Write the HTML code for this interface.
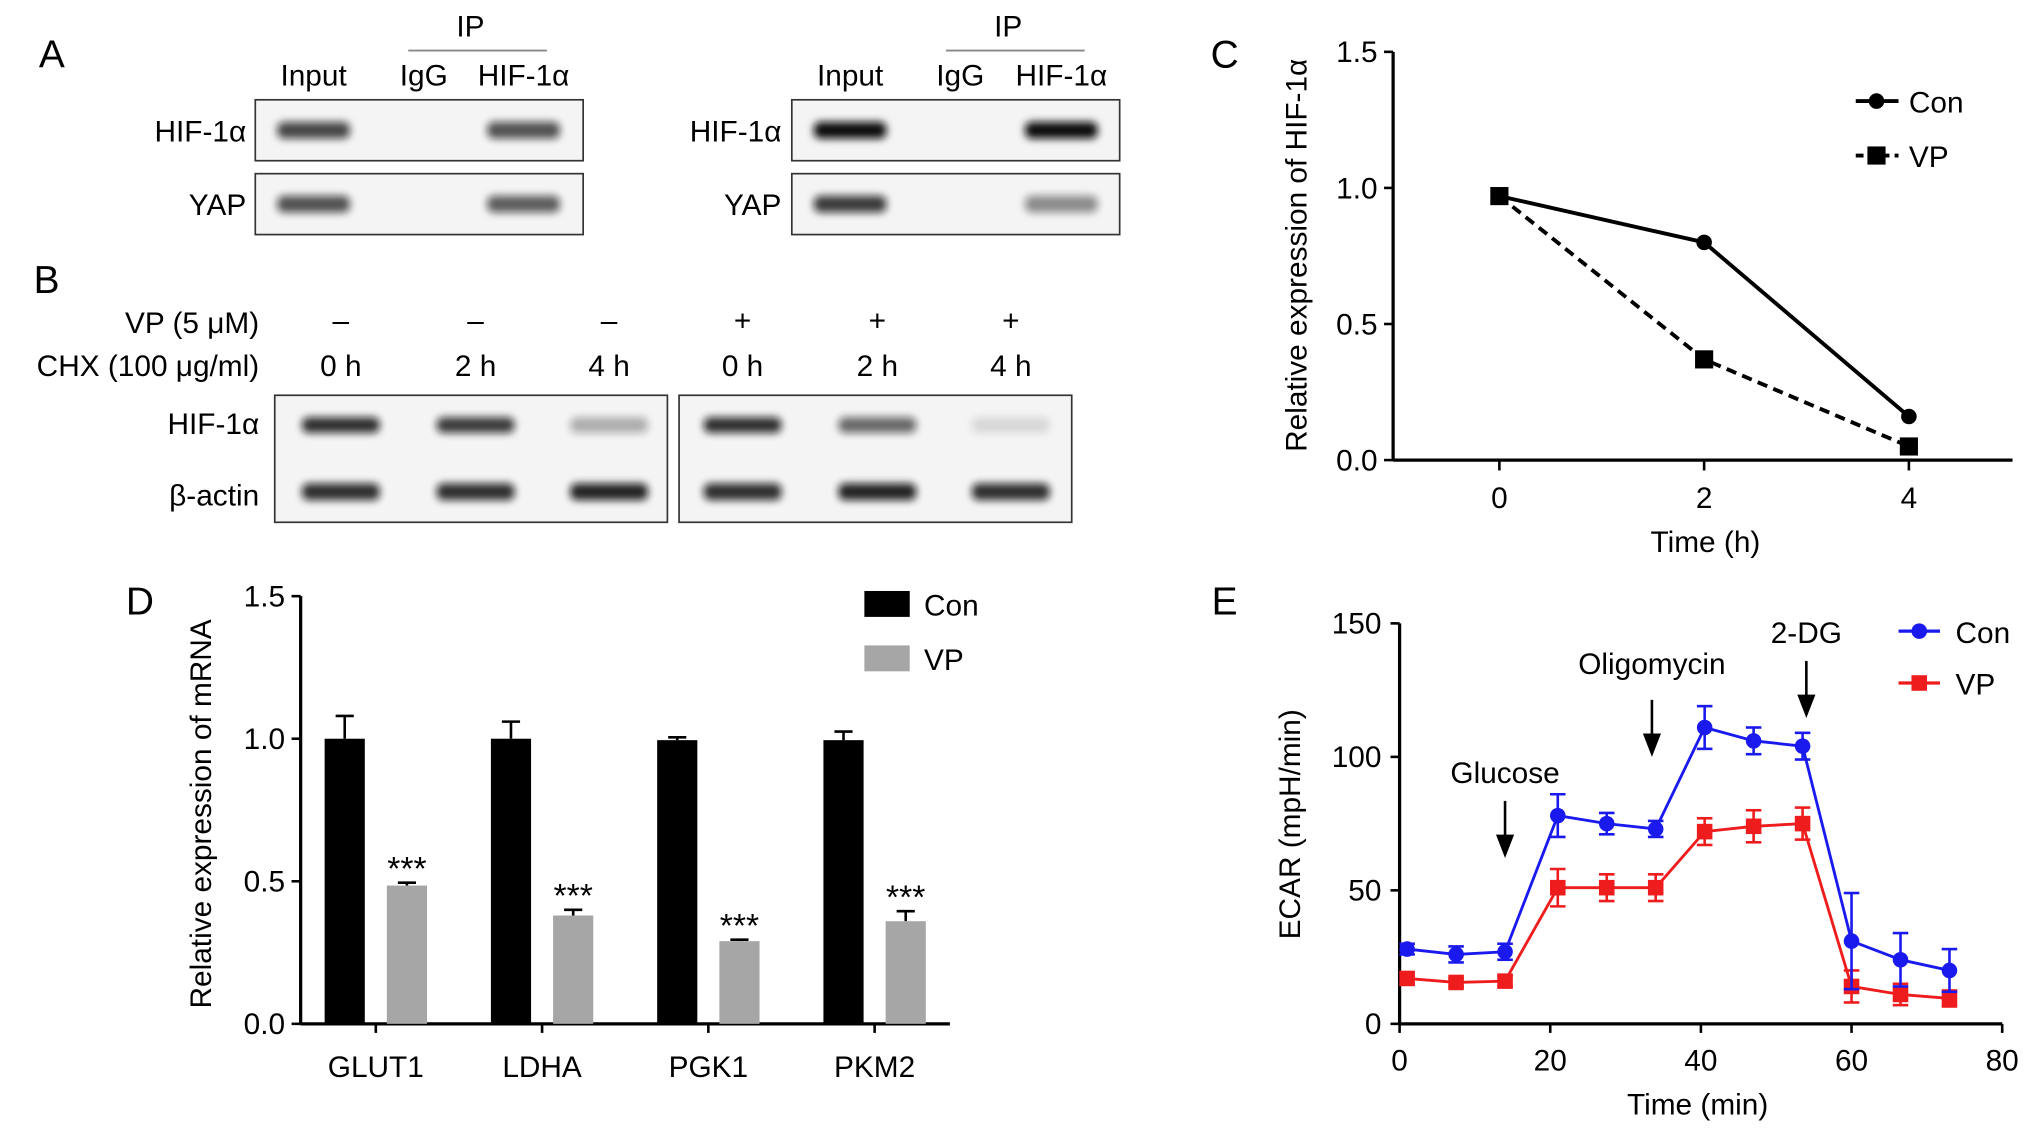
<!DOCTYPE html>
<html><head><meta charset="utf-8"><style>
html,body{margin:0;padding:0;background:#fff;}
svg{display:block;font-family:"Liberation Sans",Arial,sans-serif;}
</style></head><body>
<svg id="fig" width="2032" height="1134" viewBox="0 0 1568 875" preserveAspectRatio="none">
<defs>
<filter id="blur" x="-50%" y="-100%" width="200%" height="300%"><feGaussianBlur stdDeviation="3"/></filter>
</defs>
<g id="panelA" font-size="23">
<text x="40" y="52" font-size="30" text-anchor="middle">A</text>
</g>
<g id="panelB" font-size="23">
<text x="36" y="226" font-size="30" text-anchor="middle">B</text>
</g>
<g id="panelC" font-size="23"></g>
<g id="panelD" font-size="23"></g>
<g id="panelE" font-size="23"></g>
</svg>
<script>
const NS='http://www.w3.org/2000/svg';
function mk(parent,tag,attrs,text){const e=document.createElementNS(NS,tag);for(const k in attrs)e.setAttribute(k,attrs[k]);if(text!==undefined)e.textContent=text;parent.appendChild(e);return e;}

// ---------- Panel A: blots ----------
const A=document.getElementById('panelA');
const blotSets=[{x0:197,lab:190,ip:363,cols:[242,327,404],int:[0.75,0.7,0.7,0.65]},{x0:611,lab:603,ip:778,cols:[656,741,819],int:[1,1,0.8,0.45]}];
const colHeads=['Input','IgG','HIF-1α'];
const rowLabels=['HIF-1α','YAP'];
blotSets.forEach((s,i)=>{
  let t=mk(A,'text',{x:s.ip,y:28,'text-anchor':'middle'},'IP');
  
  
  let l=mk(A,'line',{x1:s.ip-48,x2:s.ip+59,y1:39,y2:39,stroke:'#888','stroke-width':1.5});
  
  
  colHeads.forEach((h,j)=>{let c=mk(A,'text',{x:s.cols[j],y:66,'text-anchor':'middle'},h);
    
    });
  rowLabels.forEach((r,j)=>{
    const y=77+j*57;
    let b=mk(A,'rect',{x:s.x0,y:y,width:253,height:47,fill:'#f4f4f4',stroke:'#333','stroke-width':1.3});
    
    
    let rl=mk(A,'text',{x:s.lab,y:y+32,'text-anchor':'end'},r);
    
    
    [0,2].forEach((k,kk)=>{
      const op=s.int[j*2+kk];
      let bd=mk(A,'rect',{x:s.cols[k]-28,y:y+17,width:56,height:13,rx:5,fill:'#111',opacity:op,filter:'url(#blur)'});
      
      
    });
  });
});

// ---------- Panel B ----------
const B=document.getElementById('panelB');
const bCols=[263,367,470,573,677,780];
const vpSigns=['–','–','–','+','+','+'];
const chxTimes=['0 h','2 h','4 h','0 h','2 h','4 h'];
const hifInt=[0.85,0.8,0.3,0.85,0.6,0.12];
const actInt=[0.85,0.85,0.9,0.85,0.9,0.85];
let t1=mk(B,'text',{x:200,y:257,'text-anchor':'end'},'VP (5 μM)');


let t2=mk(B,'text',{x:200,y:290,'text-anchor':'end'},'CHX (100 μg/ml)');


bCols.forEach((x,i)=>{
  let s=mk(B,'text',{x:x,y:255,'text-anchor':'middle'},vpSigns[i]);
  
  
  let tt=mk(B,'text',{x:x,y:290,'text-anchor':'middle'},chxTimes[i]);
  
  
});
[212,524].forEach(x=>{let b=mk(B,'rect',{x:x,y:305,width:303,height:98,fill:'#f4f4f4',stroke:'#333','stroke-width':1.3});
  
  });
let r1=mk(B,'text',{x:200,y:335,'text-anchor':'end'},'HIF-1α');


let r2=mk(B,'text',{x:200,y:390,'text-anchor':'end'},'β-actin');


bCols.forEach((x,i)=>{
  let b1=mk(B,'rect',{x:x-30,y:322,width:60,height:12,rx:5,fill:'#111',opacity:hifInt[i],filter:'url(#blur)'});
  
  
  let b2=mk(B,'rect',{x:x-30,y:373,width:60,height:13,rx:5,fill:'#111',opacity:actInt[i],filter:'url(#blur)'});
  
  
});

// ---------- Panel C ----------
const cTimes=[0,2,4];
const cCon=[0.97,0.80,0.16];
const cVP=[0.97,0.37,0.05];
const cYTicks=[0,0.5,1.0,1.5];
const cYLabels=['0.0','0.5','1.0','1.5'];
const C=document.getElementById('panelC');
const cx=v=>1157+(v/4)*316, cy=v=>355-(v/1.5)*315;
let cl=mk(C,'text',{x:945,y:52,'font-size':30,'text-anchor':'middle'},'C');


let cya=mk(C,'line',{x1:1075,x2:1075,y1:cy(1.5),y2:355,stroke:'#000','stroke-width':2.5});


let cxa=mk(C,'line',{x1:1075,x2:1553,y1:355,y2:355,stroke:'#000','stroke-width':2.5});


cYTicks.forEach((v,i)=>{
  mk(C,'line',{x1:1068,x2:1075,y1:cy(v),y2:cy(v),stroke:'#000','stroke-width':2});
  let t=mk(C,'text',{x:1063,y:cy(v)+8,'text-anchor':'end'},cYLabels[i]);
  
  
});
cTimes.forEach(v=>{
  mk(C,'line',{x1:cx(v),x2:cx(v),y1:355,y2:363,stroke:'#000','stroke-width':2});
  let t=mk(C,'text',{x:cx(v),y:392,'text-anchor':'middle'},String(v));
  
  
});
let cxt=mk(C,'text',{x:1316,y:426,'text-anchor':'middle'},'Time (h)');


let cyt=mk(C,'text',{x:0,y:0,'text-anchor':'middle',transform:'translate(1008,197) rotate(-90)'},'Relative expression of HIF-1α');


let cpc=mk(C,'polyline',{points:cTimes.map((t,i)=>cx(t)+','+cy(cCon[i])).join(' '),fill:'none',stroke:'#000','stroke-width':3});


let cpv=mk(C,'polyline',{points:cTimes.map((t,i)=>cx(t)+','+cy(cVP[i])).join(' '),fill:'none',stroke:'#000','stroke-width':3,'stroke-dasharray':'8,5'});


cTimes.forEach((t,i)=>{
  let p=mk(C,'circle',{cx:cx(t),cy:cy(cCon[i]),r:6,fill:'#000'});
  
  
  let q=mk(C,'rect',{x:cx(t)-7,y:cy(cVP[i])-7,width:14,height:14,fill:'#000'});
  
  
});
mk(C,'line',{x1:1432,x2:1465,y1:78,y2:78,stroke:'#000','stroke-width':3});
let lc1=mk(C,'circle',{cx:1448,cy:78,r:6,fill:'#000'});


let lt1=mk(C,'text',{x:1473,y:87},'Con');


mk(C,'line',{x1:1432,x2:1465,y1:120,y2:120,stroke:'#000','stroke-width':3,'stroke-dasharray':'6,4'});
let lc2=mk(C,'rect',{x:1441,y:113,width:14,height:14,fill:'#000'});


let lt2=mk(C,'text',{x:1473,y:129},'VP');



// ---------- Panel D ----------
const dCats=['GLUT1','LDHA','PGK1','PKM2'];
const dCon=[1.0,1.0,0.995,0.995];
const dConErr=[0.08,0.06,0.01,0.03];
const dVP=[0.485,0.38,0.29,0.36];
const dVPErr=[0.01,0.02,0.005,0.035];
const dYTicks=[0,0.5,1.0,1.5];
const dYLabels=['0.0','0.5','1.0','1.5'];
const D=document.getElementById('panelD');
const dy=v=>790-(v/1.5)*330;
const dx=i=>290+i*128.3;
let dl=mk(D,'text',{x:108,y:474,'font-size':30,'text-anchor':'middle'},'D');


let dya=mk(D,'line',{x1:232,x2:232,y1:dy(1.5),y2:790,stroke:'#000','stroke-width':2.5});


let dxa=mk(D,'line',{x1:232,x2:733,y1:790,y2:790,stroke:'#000','stroke-width':2.5});


dYTicks.forEach((v,i)=>{
  mk(D,'line',{x1:225,x2:232,y1:dy(v),y2:dy(v),stroke:'#000','stroke-width':2});
  let t=mk(D,'text',{x:220,y:dy(v)+8,'text-anchor':'end'},dYLabels[i]);
  
  
});
let dyt=mk(D,'text',{x:0,y:0,'text-anchor':'middle',transform:'translate(163,628) rotate(-90)'},'Relative expression of mRNA');


dCats.forEach((c,i)=>{
  const x=dx(i);
  mk(D,'line',{x1:x,x2:x,y1:790,y2:797,stroke:'#000','stroke-width':2});
  let t=mk(D,'text',{x:x,y:831,'text-anchor':'middle'},c);
  
  
  // con bar
  mk(D,'line',{x1:x-24,x2:x-24,y1:dy(dCon[i]),y2:dy(dCon[i]+dConErr[i]),stroke:'#000','stroke-width':2});
  mk(D,'line',{x1:x-31,x2:x-17,y1:dy(dCon[i]+dConErr[i]),y2:dy(dCon[i]+dConErr[i]),stroke:'#000','stroke-width':2});
  let b=mk(D,'rect',{x:x-39.5,y:dy(dCon[i]),width:31,height:790-dy(dCon[i]),fill:'#000'});
  
  
  mk(D,'line',{x1:x+24,x2:x+24,y1:dy(dVP[i]),y2:dy(dVP[i]+dVPErr[i]),stroke:'#000','stroke-width':2});
  mk(D,'line',{x1:x+17,x2:x+31,y1:dy(dVP[i]+dVPErr[i]),y2:dy(dVP[i]+dVPErr[i]),stroke:'#000','stroke-width':2});
  let v=mk(D,'rect',{x:x+8.5,y:dy(dVP[i]),width:31,height:790-dy(dVP[i]),fill:'#a6a6a6'});
  
  
  let s=mk(D,'text',{x:x+24,y:dy(dVP[i]+dVPErr[i])-2,'text-anchor':'middle','font-size':26},'***');
  
  
});
let dlg1=mk(D,'rect',{x:667,y:456,width:35,height:20,fill:'#000'});


let dlt1=mk(D,'text',{x:713,y:475},'Con');


let dlg2=mk(D,'rect',{x:667,y:498,width:35,height:20,fill:'#a6a6a6'});


let dlt2=mk(D,'text',{x:713,y:517},'VP');



// ---------- Panel E ----------
const eTimes=[1,7.5,14,21,27.5,34,40.5,47,53.5,60,66.5,73];
const eCon=[28,26,27,78,75,73,111,106,104,31,24,20];
const eConErr=[2,3,3,8,4,3,8,5,5,18,10,8];
const eVP=[17,15.5,16,51,51,51,72,74,75,14,11,9.5];
const eVPErr=[2,1.5,2,7,5,5,5,6,6,6,4,3];
const eXTicks=[0,20,40,60,80];
const eYTicks=[0,50,100,150];
const eArrows=[{t:14,label:'Glucose',top:618,ty:604},{t:33.5,label:'Oligomycin',top:540,ty:520},{t:54,label:'2-DG',top:510,ty:496}];
const E=document.getElementById('panelE');
const ex=v=>1080+(v/80)*465, ey=v=>790-(v/150)*309;
let el=mk(E,'text',{x:945,y:474,'font-size':30,'text-anchor':'middle'},'E');


let eya=mk(E,'line',{x1:1080,x2:1080,y1:ey(150),y2:790,stroke:'#000','stroke-width':2.5});


let exa=mk(E,'line',{x1:1080,x2:1545,y1:790,y2:790,stroke:'#000','stroke-width':2.5});


eYTicks.forEach(v=>{
  mk(E,'line',{x1:1073,x2:1080,y1:ey(v),y2:ey(v),stroke:'#000','stroke-width':2});
  let t=mk(E,'text',{x:1066,y:ey(v)+8,'text-anchor':'end'},String(v));
  
  
});
eXTicks.forEach(v=>{
  mk(E,'line',{x1:ex(v),x2:ex(v),y1:790,y2:797,stroke:'#000','stroke-width':2});
  let t=mk(E,'text',{x:ex(v),y:826,'text-anchor':'middle'},String(v));
  
  
});
let ext=mk(E,'text',{x:1310,y:860,'text-anchor':'middle'},'Time (min)');


let eyt=mk(E,'text',{x:0,y:0,'text-anchor':'middle',transform:'translate(1003,636) rotate(-90)'},'ECAR (mpH/min)');


function series(vals,errs,color,name,sq){
  eTimes.forEach((t,i)=>{
    const x=ex(t);
    mk(E,'line',{x1:x,x2:x,y1:ey(vals[i]-errs[i]),y2:ey(vals[i]+errs[i]),stroke:color,'stroke-width':2});
    [vals[i]-errs[i],vals[i]+errs[i]].forEach(v=>mk(E,'line',{x1:x-6,x2:x+6,y1:ey(v),y2:ey(v),stroke:color,'stroke-width':2}));
  });
  let p=mk(E,'polyline',{points:eTimes.map((t,i)=>ex(t)+','+ey(vals[i])).join(' '),fill:'none',stroke:color,'stroke-width':2.2});
  
  
  eTimes.forEach((t,i)=>{
    let m=sq?mk(E,'rect',{x:ex(t)-6,y:ey(vals[i])-6,width:12,height:12,fill:color}):mk(E,'circle',{cx:ex(t),cy:ey(vals[i]),r:6,fill:color});
    
    
  });
}
series(eVP,eVPErr,'#ee1c1c','vp',true);
series(eCon,eConErr,'#1a1aee','con',false);
eArrows.forEach(a=>{
  const x=ex(a.t);
  let t=mk(E,'text',{x:x,y:a.ty,'text-anchor':'middle'},a.label);
  
  
  mk(E,'line',{x1:x,x2:x,y1:a.top,y2:a.top+32,stroke:'#000','stroke-width':2});
  let ar=mk(E,'polygon',{points:(x-7)+','+(a.top+26)+' '+(x+7)+','+(a.top+26)+' '+x+','+(a.top+44),fill:'#000'});
  
  
});
mk(E,'line',{x1:1465,x2:1497,y1:487,y2:487,stroke:'#1a1aee','stroke-width':2.5});
let em1=mk(E,'circle',{cx:1481,cy:487,r:6,fill:'#1a1aee'});


let et1=mk(E,'text',{x:1509,y:496},'Con');


mk(E,'line',{x1:1465,x2:1497,y1:527,y2:527,stroke:'#ee1c1c','stroke-width':2.5});
let em2=mk(E,'rect',{x:1475,y:521,width:12,height:12,fill:'#ee1c1c'});


let et2=mk(E,'text',{x:1509,y:536},'VP');


</script>
</body></html>
